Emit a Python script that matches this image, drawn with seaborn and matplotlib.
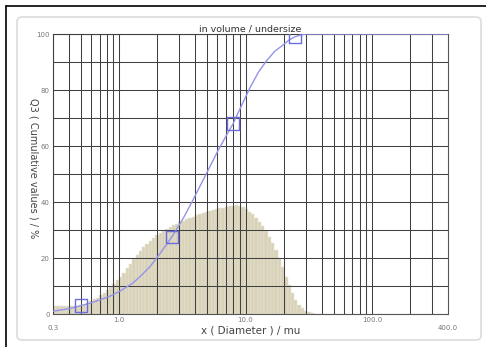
import numpy as np
import pandas as pd
import matplotlib
matplotlib.use('Agg')
import matplotlib.pyplot as plt
import seaborn as sns
from matplotlib.patches import FancyBboxPatch
from matplotlib.lines import Line2D

# density bars (q3), log-spaced classes starting at 0.3 mu
bin_start = 0.3
bin_ratio = 1.062
bar_heights = [2.8, 2.8, 2.8, 2.8, 2.9, 2.9, 3.0, 3.0, 3.1, 3.3,
               4.0, 4.6, 5.2, 5.9, 6.8, 7.6, 8.5, 9.6, 10.8, 12.0,
               13.3, 14.8, 16.3, 17.9, 19.5, 21.0, 22.4, 23.8, 25.1, 26.2,
               27.2, 28.1, 28.9, 29.7, 30.4, 31.1, 31.7, 32.3, 32.9, 33.4,
               33.9, 34.4, 34.8, 35.2, 35.6, 36.0, 36.4, 36.8, 37.1, 37.4,
               37.7, 38.0, 38.3, 38.5, 38.7, 38.8, 38.7, 38.4, 37.6, 36.6,
               35.6, 34.4, 33.0, 31.4, 29.6, 27.6, 25.4, 22.9, 20.0, 16.8,
               13.4, 10.2, 7.4, 5.0, 3.2, 2.0, 1.2, 0.6, 0.2]

# cumulative curve Q3
curve_x = [0.3, 0.4, 0.5, 0.6, 0.7, 0.85, 1.0, 1.28, 1.5, 1.76, 2.1, 2.61, 3.2, 3.82,
           4.4, 4.95, 6.0, 7.0, 7.98, 9.3, 10.9, 12.7, 14.7, 17.0, 19.7, 22.0, 24.6,
           27.0, 30.0, 400.0]
curve_y = [1.0, 1.9, 3.0, 4.0, 5.0, 6.4, 8.0, 11.0, 13.8, 17.0, 21.5, 27.5, 34.0, 40.5,
           46.0, 50.5, 58.0, 63.5, 68.0, 74.5, 81.0, 86.5, 90.5, 93.8, 96.0, 97.8, 99.0,
           99.6, 100.0, 100.0]
marker_x = [0.5, 2.61, 7.98, 24.6]
marker_y = [3.0, 27.5, 68.0, 99.0]

x_tick_vals = [1, 10, 100]
x_tick_labels = ['1.0', '10.0', '100.0']
y_tick_vals = [0, 20, 40, 60, 80, 100]

sns.set_style('white')
plt.rcParams['font.family'] = ['DejaVu Sans']

fig = plt.figure(figsize=(4.86, 3.47), dpi=100)

# outer frame + rounded panel
fig.add_artist(Line2D([6/486, 6/486], [0, 1 - 6/347], color='black', lw=1.2))
fig.add_artist(Line2D([6/486, 1], [1 - 6/347, 1 - 6/347], color='black', lw=1.2))
fig.add_artist(FancyBboxPatch((17/486, 1 - 340/347), 466/486 - 0.004, 323/347,
                              boxstyle='round,pad=0,rounding_size=0.012',
                              fc='none', ec='#dcdcdc', lw=1.2, transform=fig.transFigure))

ax = fig.add_axes([0.109, 0.095, 0.813, 0.807])

n = len(bar_heights)
edges = bin_start * bin_ratio ** np.arange(n + 1)
ax.bar(edges[:-1], bar_heights, width=np.diff(edges), align='edge',
       color='#d8d2b8', edgecolor='#e9e6d8', linewidth=0.35, zorder=1)

df_curve = pd.DataFrame({'x': curve_x, 'Q3': curve_y})
sns.lineplot(data=df_curve, x='x', y='Q3', color='#9494ea', lw=1.0, ax=ax, zorder=4)
ax.scatter(marker_x, marker_y, marker='s', s=80, facecolors='none',
           edgecolors='#6c6cdc', linewidths=1.0, zorder=5)

ax.set_xscale('log')
ax.set_xlim(0.3, 400)
ax.set_ylim(0, 100)

# grid
ax.set_xticks(x_tick_vals)
ax.set_xticklabels(x_tick_labels)
ax.set_xticks([v for d in [0.1, 1, 10, 100] for v in np.arange(1, 10) * d if 0.3 < v < 400], minor=True)
ax.set_yticks(y_tick_vals)
ax.set_yticks(np.arange(10, 100, 20), minor=True)
ax.grid(True, which='both', color='#404040', lw=0.75)
ax.set_axisbelow(False)
for gl in ax.get_xgridlines() + ax.get_ygridlines():
    gl.set_zorder(2)
for s in ax.spines.values():
    s.set_color('#555555')
    s.set_linewidth(0.8)

ax.tick_params(axis='both', which='both', length=0, labelsize=5, labelcolor='#777777', pad=2)
ax.tick_params(axis='y', which='major', length=2, color='#999999', pad=0.5)
ax.text(0.0, -0.04, '0.3', transform=ax.transAxes, fontsize=5, color='#777777', ha='center', va='top')
ax.text(1.0, -0.04, '400.0', transform=ax.transAxes, fontsize=5, color='#777777', ha='center', va='top')

ax.set_title('in volume / undersize', fontsize=6.8, color='#333333', pad=2)
ax.set_xlabel('x ( Diameter ) / mu', fontsize=7.5, color='#444444', labelpad=2)
ax.set_ylabel('Q3 ( Cumulative values ) / %', fontsize=7, color='#444444', rotation=270,
              va='center', ha='center')
ax.yaxis.set_label_coords(-0.05, 0.52)

fig.savefig('out.png', dpi=100)
